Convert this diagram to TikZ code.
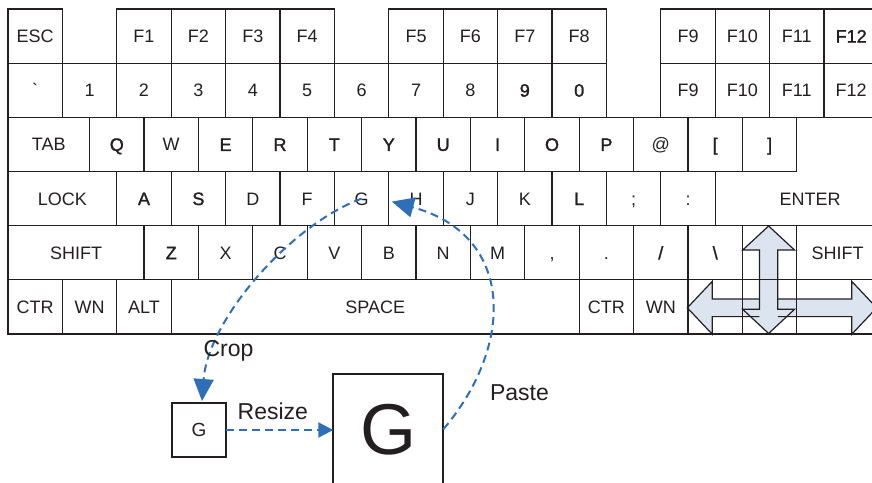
\documentclass[tikz,border=0pt]{standalone}
\usepackage{fontspec}
\setmainfont{Liberation Sans}
\newfontfamily\keybold[FakeBold=1.5]{Liberation Sans}
\usetikzlibrary{arrows.meta}
\definecolor{keyline}{RGB}{35,31,32}
\definecolor{arrowfill}{RGB}{220,228,240}
\definecolor{flowblue}{RGB}{46,111,183}

\begin{document}
\begin{tikzpicture}[x=1pt,y=-1pt,
  keybox/.style={draw=keyline, line width=1.2pt, minimum height=54.17pt,
    minimum width=#1, inner sep=0pt, outer sep=0pt, anchor=north west,
    text=keyline, font=\fontsize{18}{18}\selectfont,
    text height=12.9pt, text depth=0pt},
  keybox/.default=54.4pt,
  keytext/.style={text=keyline, font=\fontsize{18}{18}\selectfont,
    text height=12.9pt, text depth=0pt, inner sep=0pt},
  glyphbox/.style={draw=keyline, line width=1.8pt, inner sep=0pt,
    outer sep=0pt, text=keyline},
  flow/.style={draw=flowblue, line width=2pt, dash pattern=on 8pt off 5pt},
  bighead/.style={-{Triangle[length=22pt,width=20pt]}, flowblue},
  smallhead/.style={-{Triangle[length=15pt,width=15pt]}, flowblue},
  flowlabel/.style={text=keyline, font=\fontsize{23}{23}\selectfont,
    anchor=base, inner sep=0pt},
  cursorline/.style={draw=keyline, line width=1.2pt, line join=miter}
]
\path[use as bounding box] (0,0) rectangle (872,482);

% cursor-key cross: fill first so the key grid stays visible on top
\fill[arrowfill] (768.6,226) -- (794.5,250) -- (777.8,250) -- (777.8,299)
  -- (851.7,299) -- (851.7,281.3) -- (876.7,307.8) -- (851.7,334.3)
  -- (851.7,316.6) -- (777.8,316.6) -- (777.8,309.3) -- (794.5,309.3)
  -- (768.6,333.5) -- (742.7,309.3) -- (759.4,309.3) -- (759.4,316.6)
  -- (712.3,316.6) -- (712.3,334.3) -- (687.3,307.8) -- (712.3,281.3)
  -- (712.3,299) -- (759.4,299) -- (759.4,250) -- (742.7,250) -- cycle;

% row 1: escape and function keys
\node[keybox] (kesc) at (8,9) {ESC};
\foreach \lab [count=\i from 0] in {F1,F2,F3,F4}
  \node[keybox] (kfa\i) at ({116.8+54.4*\i},9) {\lab};
\foreach \lab [count=\i from 0] in {F5,F6,F7,F8}
  \node[keybox] (kfb\i) at ({388.8+54.4*\i},9) {\lab};
\foreach \lab [count=\i from 0] in {F9,F10,F11,{\keybold F12}}
  \node[keybox] (kfc\i) at ({660.8+54.4*\i},9) {\lab};

% row 2: digits
\foreach \lab [count=\i from 0] in {\textasciigrave,1,2,3,4,5,6,7,8,{\keybold 9},{\keybold 0}}
  \node[keybox] (kdig\i) at ({8+54.4*\i},63.17) {\lab};
\foreach \lab [count=\i from 0] in {F9,F10,F11,F12}
  \node[keybox] (kfd\i) at ({660.8+54.4*\i},63.17) {\lab};

% row 3
\node[keybox=81.6pt] (ktab) at (8,117.34) {TAB};
\foreach \lab [count=\i from 0] in {{\keybold Q},W,{\keybold E},{\keybold R},{\keybold T},{\keybold Y},{\keybold U},{\keybold I},{\keybold O},{\keybold P},@,{\keybold [},{\keybold ]}}
  \node[keybox] (kup\i) at ({89.6+54.4*\i},117.34) {\lab};

% row 4
\node[keybox=108.8pt] (klock) at (8,171.51) {LOCK};
\foreach \lab/\nm [count=\i from 0] in {{\keybold A}/ka,{\keybold S}/ks,D/kd,F/kf,G/gkey,H/hkey,J/kj,K/kk,{\keybold L}/kl,;/ksemi,:/kcolon}
  \node[keybox] (\nm) at ({116.8+54.4*\i},171.51) {\lab};
\draw[cursorline] (796.8,117.34) -- (878.4,117.34) -- (878.4,225.68)
  -- (715.2,225.68) -- (715.2,171.51) -- (796.8,171.51);
\node[keytext] (kenter) at (810,198.6) {ENTER};

% row 5
\node[keybox=136pt] (kshiftl) at (8,225.68) {SHIFT};
\foreach \lab [count=\i from 0] in {{\keybold Z},X,C,V,B,N,M,{,},.,{\keybold /},{\keybold\textbackslash}}
  \node[keybox] (klo\i) at ({144+54.4*\i},225.68) {\lab};
\node[keybox] (kup) at (742.4,225.68) {};
\node[keybox=81.6pt] (kshiftr) at (796.8,225.68) {SHIFT};

% row 6
\node[keybox] (kctrl) at (8,279.85) {CTR};
\node[keybox] (kwinl) at (62.4,279.85) {WN};
\node[keybox] (kalt) at (116.8,279.85) {ALT};
\node[keybox=408pt] (kspace) at (171.2,279.85) {SPACE};
\node[keybox] (kctrr) at (579.2,279.85) {CTR};
\node[keybox] (kwinr) at (633.6,279.85) {WN};
\node[keybox] (kleft) at (688,279.85) {};
\node[keybox] (kdown) at (742.4,279.85) {};
\node[keybox=81.6pt] (kright) at (796.8,279.85) {};

% cursor-key cross outlines: vertical double arrow over the horizontal ones
\draw[cursorline] (759.4,299) -- (712.3,299) -- (712.3,281.3) -- (687.3,307.8)
  -- (712.3,334.3) -- (712.3,316.6) -- (759.4,316.6);
\draw[cursorline] (777.8,299) -- (851.7,299) -- (851.7,281.3) -- (876.7,307.8)
  -- (851.7,334.3) -- (851.7,316.6) -- (777.8,316.6);
\draw[cursorline] (768.6,226) -- (794.5,250) -- (777.8,250) -- (777.8,309.3)
  -- (794.5,309.3) -- (768.6,333.5) -- (742.7,309.3) -- (759.4,309.3)
  -- (759.4,250) -- (742.7,250) -- cycle;

% cropped glyph and its enlarged copy
\node[glyphbox, minimum size=54pt, font=\fontsize{19}{19}\selectfont,
  anchor=north west] (gbox) at (172,403) {G};
\node[glyphbox, minimum size=110pt, font=\fontsize{72}{72}\selectfont,
  anchor=north west] (bigg) at (333.3,374.3) {G};

% crop, resize and paste steps
\draw[flow, bighead] (gkey.center) .. controls (290,225) and (208,320)
  .. ([shift={(3,-2)}]gbox.north);
\draw[flow, smallhead] (gbox.east) -- (gbox.east -| bigg.west);
\draw[flow, bighead] (bigg.east) .. controls (515,345) and (515,235)
  .. ([shift={(3,3)}]hkey.west);

\node[flowlabel] (lcrop) at (228.5,356) {Crop};
\node[flowlabel] (lresize) at (272.8,419) {Resize};
\node[flowlabel] (lpaste) at (519.5,400) {Paste};
\end{tikzpicture}
\end{document}
